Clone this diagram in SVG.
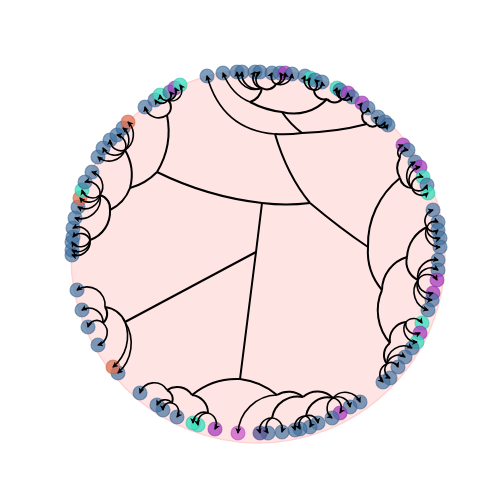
<svg xmlns="http://www.w3.org/2000/svg" width="500" height="500" viewBox="0 0 500 500">
<style>
.e{fill:none;stroke:#000;stroke-width:2}
.l{fill:none;stroke:#000;stroke-width:1.6;marker-end:url(#ah)}
circle.b,circle.t,circle.p,circle.m,circle.s,circle.o{stroke-width:1.2;stroke-opacity:.5}
.b{fill:#41719f;fill-opacity:.68;stroke:#2f5a85}
.t{fill:#3fe0c0;fill-opacity:.8;stroke:#2fb8a0}
.p{fill:#a83cc0;fill-opacity:.75;stroke:#80309a}
.m{fill:#d060d0;fill-opacity:.8;stroke:#b040b0}
.s{fill:#5a5a9a;fill-opacity:.8;stroke:#404080}
.o{fill:#e07050;fill-opacity:.75;stroke:#c05a40}
</style>
<defs>
<marker id="ah" markerUnits="userSpaceOnUse" markerWidth="7" markerHeight="7" refX="5" refY="3" orient="auto">
<path d="M0,0 L6,3 L0,6 L1.5,3 z" fill="#000"/>
</marker>
</defs>
<rect width="500" height="500" fill="#fff"/>
<circle id="disk" cx="258" cy="256" r="187" fill="#ffe4e4" stroke="#ffd2d2" stroke-width="1.5"/>
<g id="nodes">
<g id="n1"><circle class="b" cx="207" cy="76" r="7"/></g>
<g id="n2"><circle class="b" cx="223" cy="73" r="7"/></g>
<g id="n3"><circle class="b" cx="237" cy="72" r="7"/></g>
<g id="n4"><circle class="b" cx="242" cy="72" r="7"/></g>
<g id="n5"><circle class="b" cx="255" cy="72" r="7"/></g>
<g id="n6"><circle class="b" cx="260" cy="72" r="7"/></g>
<g id="n7"><circle class="b" cx="272" cy="73" r="7"/></g>
<g id="n8"><circle class="b" cx="280" cy="73" r="7"/></g>
<g id="n9"><circle class="p" cx="285" cy="73" r="7"/></g>
<g id="n10"><circle class="b" cx="292" cy="74" r="7"/></g>
<g id="n11"><circle class="b" cx="305" cy="76" r="7"/></g>
<g id="n12"><circle class="t" cx="310" cy="78" r="7"/></g>
<g id="n13"><circle class="b" cx="315" cy="80" r="7"/></g>
<g id="n14"><circle class="b" cx="322" cy="82" r="7"/></g>
<g id="n15"><circle class="t" cx="337" cy="88" r="7"/></g>
<g id="n16"><circle class="b" cx="340" cy="90" r="7"/></g>
<g id="n17"><circle class="p" cx="348" cy="93" r="7"/></g>
<g id="n18"><circle class="b" cx="352" cy="97" r="7"/></g>
<g id="n19"><circle class="p" cx="362" cy="103" r="7"/></g>
<g id="n20"><circle class="b" cx="368" cy="108" r="7"/></g>
<g id="n21"><circle class="b" cx="378" cy="117" r="7"/></g>
<g id="n22"><circle class="b" cx="385" cy="122" r="7"/></g>
<g id="n23"><circle class="b" cx="388" cy="125" r="7"/></g>
<g id="n24"><circle class="p" cx="403" cy="145" r="7"/></g>
<g id="n25"><circle class="b" cx="408" cy="150" r="7"/></g>
<g id="n26"><circle class="b" cx="415" cy="162" r="7"/></g>
<g id="n27"><circle class="p" cx="420" cy="167" r="7"/></g>
<g id="n28"><circle class="t" cx="423" cy="177" r="7"/></g>
<g id="n29"><circle class="b" cx="427" cy="185" r="7"/></g>
<g id="n30"><circle class="t" cx="428" cy="193" r="7"/></g>
<g id="n31"><circle class="b" cx="433" cy="210" r="7"/></g>
<g id="n32"><circle class="b" cx="438" cy="222" r="7"/></g>
<g id="n33"><circle class="b" cx="438" cy="230" r="7"/></g>
<g id="n34"><circle class="b" cx="440" cy="238" r="7"/></g>
<g id="n35"><circle class="b" cx="440" cy="247" r="7"/></g>
<g id="n36"><circle class="b" cx="438" cy="260" r="7"/></g>
<g id="n37"><circle class="b" cx="438" cy="270" r="7"/></g>
<g id="n38"><circle class="p" cx="437" cy="280" r="7"/></g>
<g id="n39"><circle class="p" cx="433" cy="293" r="7"/></g>
<g id="n40"><circle class="b" cx="432" cy="300" r="7"/></g>
<g id="n41"><circle class="b" cx="428" cy="310" r="7"/></g>
<g id="n42"><circle class="t" cx="422" cy="323" r="7"/></g>
<g id="n43"><circle class="p" cx="420" cy="333" r="7"/></g>
<g id="n44"><circle class="t" cx="417" cy="342" r="7"/></g>
<g id="n45"><circle class="b" cx="412" cy="348" r="7"/></g>
<g id="n46"><circle class="b" cx="405" cy="357" r="7"/></g>
<g id="n47"><circle class="b" cx="398" cy="367" r="7"/></g>
<g id="n48"><circle class="b" cx="390" cy="378" r="7"/></g>
<g id="n49"><circle class="b" cx="383" cy="382" r="7"/></g>
<g id="n50"><circle class="b" cx="360" cy="402" r="7"/></g>
<g id="n51"><circle class="b" cx="350" cy="407" r="7"/></g>
<g id="n52"><circle class="p" cx="340" cy="413" r="7"/></g>
<g id="n53"><circle class="b" cx="332" cy="418" r="7"/></g>
<g id="n54"><circle class="b" cx="318" cy="423" r="7"/></g>
<g id="n55"><circle class="b" cx="310" cy="427" r="7"/></g>
<g id="n56"><circle class="b" cx="300" cy="429" r="7"/></g>
<g id="n57"><circle class="b" cx="295" cy="430" r="7"/></g>
<g id="n58"><circle class="b" cx="282" cy="432" r="7"/></g>
<g id="n59"><circle class="b" cx="268" cy="433" r="7"/></g>
<g id="n60"><circle class="s" cx="260" cy="433" r="7"/></g>
<g id="n61"><circle class="m" cx="238" cy="433" r="7"/></g>
<g id="n62"><circle class="p" cx="215" cy="429" r="7"/></g>
<g id="n63"><circle class="t" cx="198" cy="425" r="7"/></g>
<g id="n64"><circle class="t" cx="193" cy="423" r="7"/></g>
<g id="n65"><circle class="b" cx="177" cy="417" r="7"/></g>
<g id="n66"><circle class="b" cx="163" cy="410" r="7"/></g>
<g id="n67"><circle class="b" cx="157" cy="405" r="7"/></g>
<g id="n68"><circle class="b" cx="140" cy="393" r="7"/></g>
<g id="n69"><circle class="b" cx="118" cy="373" r="7"/></g>
<g id="n70"><circle class="o" cx="113" cy="367" r="7"/></g>
<g id="n71"><circle class="b" cx="98" cy="345" r="7"/></g>
<g id="n72"><circle class="b" cx="88" cy="327" r="7"/></g>
<g id="n73"><circle class="b" cx="82" cy="310" r="7"/></g>
<g id="n74"><circle class="b" cx="77" cy="290" r="7"/></g>
<g id="n75"><circle class="b" cx="72" cy="255" r="7"/></g>
<g id="n76"><circle class="b" cx="72" cy="250" r="7"/></g>
<g id="n77"><circle class="b" cx="72" cy="242" r="7"/></g>
<g id="n78"><circle class="b" cx="73" cy="237" r="7"/></g>
<g id="n79"><circle class="b" cx="73" cy="228" r="7"/></g>
<g id="n80"><circle class="b" cx="75" cy="218" r="7"/></g>
<g id="n81"><circle class="b" cx="78" cy="207" r="7"/></g>
<g id="n82"><circle class="o" cx="80" cy="198" r="7"/></g>
<g id="n83"><circle class="t" cx="82" cy="190" r="7"/></g>
<g id="n84"><circle class="b" cx="85" cy="182" r="7"/></g>
<g id="n85"><circle class="b" cx="92" cy="172" r="7"/></g>
<g id="n86"><circle class="b" cx="98" cy="157" r="7"/></g>
<g id="n87"><circle class="b" cx="103" cy="148" r="7"/></g>
<g id="n88"><circle class="b" cx="110" cy="140" r="7"/></g>
<g id="n89"><circle class="b" cx="117" cy="135" r="7"/></g>
<g id="n90"><circle class="b" cx="123" cy="128" r="7"/></g>
<g id="n91"><circle class="o" cx="128" cy="122" r="7"/></g>
<g id="n92"><circle class="b" cx="145" cy="107" r="7"/></g>
<g id="n93"><circle class="b" cx="155" cy="100" r="7"/></g>
<g id="n94"><circle class="t" cx="160" cy="95" r="7"/></g>
<g id="n95"><circle class="b" cx="170" cy="92" r="7"/></g>
<g id="n96"><circle class="p" cx="175" cy="88" r="7"/></g>
<g id="n97"><circle class="t" cx="180" cy="85" r="7"/></g>
</g>
<g id="connectors">
<path class="e" d="M157,172 A320,320 0 0 0 262,203"/>
<path class="e" d="M262,203 Q286,206 310,203"/>
<path class="e" d="M262,203 L256,252 L240,379"/>
<path class="e" d="M256,252 L125,322"/>
<path class="e" d="M310,203 Q287,175 275,134"/>
<path class="e" d="M310,203 Q341,229 368,247"/>
<path class="e" d="M275,134 Q288,135 302,133"/>
<path class="e" d="M302,133 Q336,132 367,124"/>
<path class="e" d="M302,133 Q290,124 282,112"/>
<path class="e" d="M282,112 Q265,110 250,102"/>
<path class="e" d="M250,102 A18,18 0 0 0 262,88"/>
<path class="e" d="M262,88 A10,10 0 0 0 276,84"/>
<path class="e" d="M282,112 A45,45 0 0 0 327,99"/>
<path class="e" d="M327,99 A10,10 0 0 1 314,90"/>
<path class="e" d="M327,99 A10,10 0 0 0 342,99"/>
<path class="e" d="M367,124 A8,8 0 0 1 363,113"/>
<path class="e" d="M367,124 A7,7 0 0 0 377,125"/>
<path class="e" d="M368,247 A85,85 0 0 1 400,178"/>
<path class="e" d="M400,178 A20,20 0 0 1 400,158"/>
<path class="e" d="M400,178 A12,12 0 0 0 412,188"/>
<path class="e" d="M368,247 A60,60 0 0 0 382,290"/>
<path class="e" d="M382,290 A35,35 0 0 1 407,257"/>
<path class="e" d="M407,257 A35,35 0 0 1 427,227"/>
<path class="e" d="M407,257 A20,20 0 0 0 418,280"/>
<path class="e" d="M382,290 A50,50 0 0 0 390,343"/>
<path class="e" d="M390,343 A18,18 0 0 1 406,322"/>
<path class="e" d="M390,343 A15,15 0 0 0 387,364"/>
<path class="e" d="M240,379 A70,70 0 0 0 192,395"/>
<path class="e" d="M240,379 A70,70 0 0 1 277,395"/>
<path class="e" d="M192,395 A18,18 0 0 0 167,390"/>
<path class="e" d="M167,390 A10,10 0 0 1 172,403"/>
<path class="e" d="M192,395 A18,18 0 0 1 208,413"/>
<path class="e" d="M277,395 A22,22 0 0 1 303,397"/>
<path class="e" d="M303,397 A26,26 0 0 0 272,418"/>
<path class="e" d="M303,397 A22,22 0 0 1 333,398"/>
<path class="e" d="M333,398 A22,22 0 0 0 306,416"/>
<path class="e" d="M125,322 A25,25 0 0 0 105,307"/>
<path class="e" d="M105,307 A12,12 0 0 1 103,323"/>
<path class="e" d="M157,172 A80,80 0 0 0 167,115"/>
<path class="e" d="M167,115 A10,10 0 0 0 168,100"/>
<path class="e" d="M157,172 A60,60 0 0 1 130,188"/>
<path class="e" d="M130,188 A50,50 0 0 0 125,150"/>
<path class="e" d="M130,188 A40,40 0 0 1 110,210"/>
<path class="e" d="M110,210 A14,14 0 0 0 100,195"/>
<path class="e" d="M110,210 A30,30 0 0 1 90,240"/>
<path class="l" d="M275,134 Q222,130 207,76"/>
<path class="l" d="M250,102 Q232,95 223,73"/>
<path class="l" d="M262,88 A18,18 0 0 1 237,72"/>
<path class="l" d="M262,88 A15,15 0 0 1 242,72"/>
<path class="l" d="M262,88 A10,10 0 0 1 255,72"/>
<path class="l" d="M262,88 A9,9 0 0 1 260,72"/>
<path class="l" d="M276,84 A8,8 0 0 1 272,73"/>
<path class="l" d="M276,84 A7,7 0 0 0 280,73"/>
<path class="l" d="M276,84 A9,9 0 0 0 285,73"/>
<path class="l" d="M276,84 A12,12 0 0 0 292,74"/>
<path class="l" d="M314,90 A10,10 0 0 1 305,76"/>
<path class="l" d="M314,90 A8,8 0 0 1 310,78"/>
<path class="l" d="M314,90 A6,6 0 0 0 315,80"/>
<path class="l" d="M314,90 A7,7 0 0 0 322,82"/>
<path class="l" d="M342,99 A8,8 0 0 1 337,88"/>
<path class="l" d="M342,99 A6,6 0 0 1 340,90"/>
<path class="l" d="M342,99 A6,6 0 0 0 348,93"/>
<path class="l" d="M342,99 A7,7 0 0 0 352,97"/>
<path class="l" d="M363,113 A7,7 0 0 1 362,103"/>
<path class="l" d="M363,113 A5,5 0 0 0 368,108"/>
<path class="l" d="M377,125 A6,6 0 0 1 378,117"/>
<path class="l" d="M377,125 A6,6 0 0 0 385,122"/>
<path class="l" d="M377,125 A7,7 0 0 0 388,125"/>
<path class="l" d="M400,158 A8,8 0 0 1 403,145"/>
<path class="l" d="M400,158 A7,7 0 0 1 408,150"/>
<path class="l" d="M412,188 A16,16 0 0 1 415,162"/>
<path class="l" d="M412,188 A13,13 0 0 1 420,167"/>
<path class="l" d="M412,188 A9,9 0 0 1 423,177"/>
<path class="l" d="M412,188 A9,9 0 0 0 427,185"/>
<path class="l" d="M412,188 A10,10 0 0 0 428,193"/>
<path class="l" d="M427,227 A11,11 0 0 1 433,210"/>
<path class="l" d="M427,227 A8,8 0 0 1 438,222"/>
<path class="l" d="M427,227 A7,7 0 0 0 438,230"/>
<path class="l" d="M427,227 A10,10 0 0 0 440,238"/>
<path class="l" d="M427,227 A14,14 0 0 0 440,247"/>
<path class="l" d="M418,280 A17,17 0 0 1 438,260"/>
<path class="l" d="M418,280 A13,13 0 0 1 438,270"/>
<path class="l" d="M418,280 A11,11 0 0 1 437,280"/>
<path class="l" d="M418,280 A12,12 0 0 0 433,293"/>
<path class="l" d="M418,280 A15,15 0 0 0 432,300"/>
<path class="l" d="M418,280 A19,19 0 0 0 428,310"/>
<path class="l" d="M406,322 A10,10 0 0 1 422,323"/>
<path class="l" d="M406,322 A10,10 0 0 0 420,333"/>
<path class="l" d="M406,322 A13,13 0 0 0 417,342"/>
<path class="l" d="M387,364 A17,17 0 0 1 412,348"/>
<path class="l" d="M387,364 A12,12 0 0 1 405,357"/>
<path class="l" d="M387,364 A7,7 0 0 1 398,367"/>
<path class="l" d="M387,364 A9,9 0 0 0 390,378"/>
<path class="l" d="M387,364 A11,11 0 0 0 383,382"/>
<path class="l" d="M333,398 A16,16 0 0 1 360,402"/>
<path class="l" d="M333,398 A12,12 0 0 1 350,407"/>
<path class="l" d="M333,398 A10,10 0 0 1 340,413"/>
<path class="l" d="M333,398 A12,12 0 0 0 332,418"/>
<path class="l" d="M306,416 A9,9 0 0 1 318,423"/>
<path class="l" d="M306,416 A8,8 0 0 1 310,427"/>
<path class="l" d="M306,416 A9,9 0 0 0 300,429"/>
<path class="l" d="M306,416 A11,11 0 0 0 295,430"/>
<path class="l" d="M272,418 A11,11 0 0 1 282,432"/>
<path class="l" d="M272,418 A10,10 0 0 0 268,433"/>
<path class="l" d="M272,418 A12,12 0 0 0 260,433"/>
<path class="l" d="M277,395 A40,40 0 0 0 238,433"/>
<path class="l" d="M208,413 A11,11 0 0 1 215,429"/>
<path class="l" d="M208,413 A10,10 0 0 0 198,425"/>
<path class="l" d="M208,413 A11,11 0 0 0 193,423"/>
<path class="l" d="M172,403 A9,9 0 0 1 177,417"/>
<path class="l" d="M172,403 A7,7 0 0 0 163,410"/>
<path class="l" d="M172,403 A9,9 0 0 0 157,405"/>
<path class="l" d="M167,390 A15,15 0 0 0 140,393"/>
<path class="l" d="M125,322 A40,40 0 0 1 118,373"/>
<path class="l" d="M125,322 A40,40 0 0 1 113,367"/>
<path class="l" d="M105,307 A18,18 0 0 0 77,290"/>
<path class="l" d="M103,323 A14,14 0 0 0 82,310"/>
<path class="l" d="M103,323 A9,9 0 0 0 88,327"/>
<path class="l" d="M103,323 A13,13 0 0 1 98,345"/>
<path class="l" d="M167,115 A14,14 0 0 1 145,107"/>
<path class="l" d="M168,100 A8,8 0 0 1 155,100"/>
<path class="l" d="M168,100 A6,6 0 0 1 160,95"/>
<path class="l" d="M168,100 A5,5 0 0 0 170,92"/>
<path class="l" d="M168,100 A8,8 0 0 0 175,88"/>
<path class="l" d="M168,100 A10,10 0 0 0 180,85"/>
<path class="l" d="M125,150 A18,18 0 0 0 128,122"/>
<path class="l" d="M125,150 A15,15 0 0 0 123,128"/>
<path class="l" d="M125,150 A11,11 0 0 0 117,135"/>
<path class="l" d="M125,150 A11,11 0 0 1 110,140"/>
<path class="l" d="M125,150 A13,13 0 0 1 103,148"/>
<path class="l" d="M125,150 A17,17 0 0 1 98,157"/>
<path class="l" d="M100,195 A15,15 0 0 0 92,172"/>
<path class="l" d="M100,195 A12,12 0 0 0 85,182"/>
<path class="l" d="M100,195 A11,11 0 0 1 82,190"/>
<path class="l" d="M100,195 A12,12 0 0 1 80,198"/>
<path class="l" d="M100,195 A15,15 0 0 1 78,207"/>
<path class="l" d="M100,195 A20,20 0 0 1 75,218"/>
<path class="l" d="M90,240 A12,12 0 0 0 73,228"/>
<path class="l" d="M90,240 A10,10 0 0 0 73,237"/>
<path class="l" d="M90,240 A10,10 0 0 1 72,242"/>
<path class="l" d="M90,240 A12,12 0 0 1 72,250"/>
<path class="l" d="M90,240 A14,14 0 0 1 72,255"/>
</g>
</svg>
